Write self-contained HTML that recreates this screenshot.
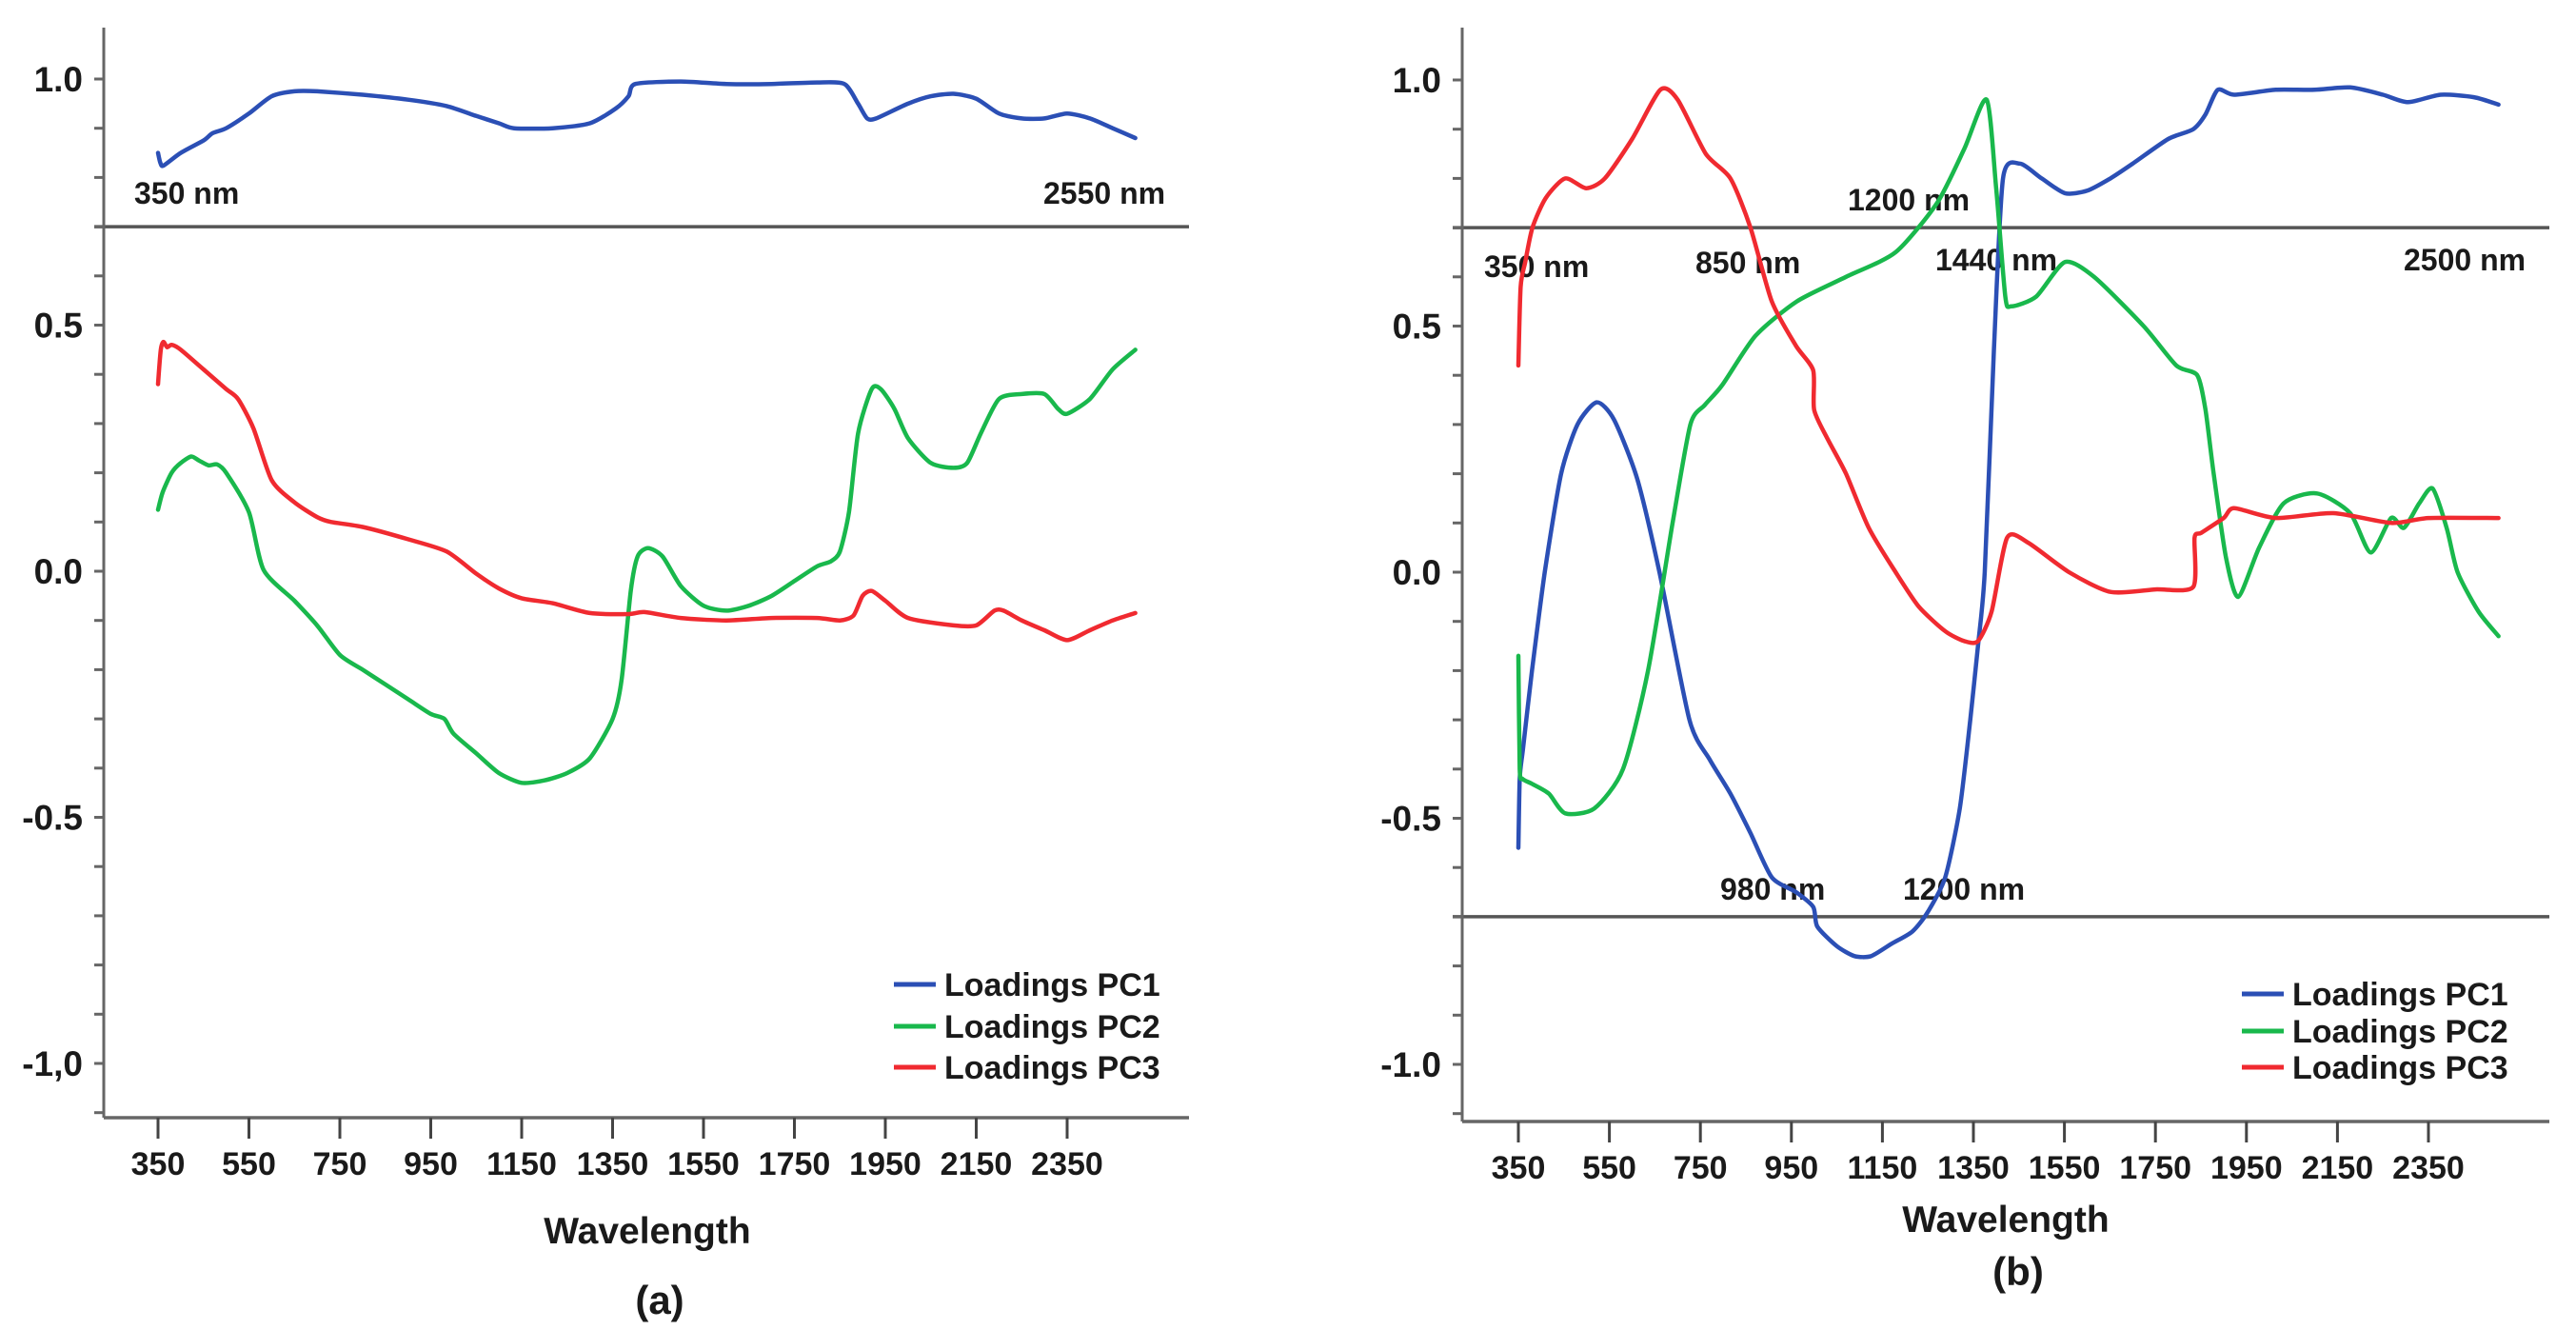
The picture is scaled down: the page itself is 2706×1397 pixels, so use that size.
<!DOCTYPE html>
<html><head><meta charset="utf-8"><style>
html,body{margin:0;padding:0;background:#fff;}
svg{display:block;}
text{font-family:"Liberation Sans",Arial,sans-serif;font-weight:bold;fill:#1a1a1a;}
</style></head>
<body>
<svg id="fig" width="2706" height="1397" viewBox="0 0 2706 1397" xmlns="http://www.w3.org/2000/svg"></svg>
<script>
// ---- data (wavelength nm, loading value) ----
const xTicks = [350,550,750,950,1150,1350,1550,1750,1950,2150,2350];
const yTicksA = [1.0,0.5,0.0,-0.5,-1.0];
const yTickLabelsA = ["1.0","0.5","0.0","-0.5","-1,0"];
const yTickLabelsB = ["1.0","0.5","0.0","-0.5","-1.0"];
const legendLabels = ["Loadings PC1","Loadings PC2","Loadings PC3"];

const aPC1nm = [350,355,362,400,450,470,500,550,600,650,700,800,900,985,1050,1100,1133,1218,1300,1357,1385,1400,1500,1600,1700,1800,1860,1890,1910,1930,2000,2050,2100,2150,2200,2250,2300,2350,2400,2450,2500];
const aPC1v  = [0.85,0.83,0.824,0.85,0.875,0.89,0.90,0.93,0.965,0.975,0.975,0.968,0.958,0.945,0.925,0.91,0.90,0.90,0.91,0.94,0.965,0.99,0.995,0.99,0.99,0.993,0.99,0.95,0.92,0.92,0.95,0.965,0.97,0.96,0.93,0.92,0.92,0.93,0.92,0.90,0.88];
const aPC2nm = [350,360,380,400,423,440,461,480,500,550,582,650,700,750,800,850,900,950,980,1000,1050,1100,1150,1200,1250,1300,1350,1370,1390,1405,1428,1460,1500,1550,1600,1650,1700,1750,1800,1830,1850,1870,1890,1920,1940,1970,2000,2050,2100,2130,2160,2200,2250,2300,2330,2350,2400,2450,2500];
const aPC2v  = [0.125,0.16,0.20,0.22,0.233,0.225,0.215,0.217,0.20,0.12,0.003,-0.06,-0.11,-0.17,-0.20,-0.23,-0.26,-0.29,-0.30,-0.33,-0.37,-0.41,-0.43,-0.425,-0.41,-0.38,-0.30,-0.22,-0.04,0.03,0.047,0.03,-0.03,-0.07,-0.08,-0.07,-0.05,-0.02,0.01,0.02,0.04,0.12,0.28,0.37,0.37,0.33,0.27,0.22,0.21,0.22,0.28,0.35,0.36,0.36,0.33,0.32,0.35,0.41,0.45];
const aPC3nm = [350,356,362,370,380,400,450,500,526,560,600,650,700,731,800,900,985,1050,1100,1150,1218,1300,1386,1420,1500,1600,1700,1800,1850,1880,1900,1920,1950,2000,2100,2150,2190,2210,2250,2300,2350,2400,2450,2500];
const aPC3v  = [0.38,0.45,0.466,0.455,0.46,0.45,0.41,0.37,0.35,0.29,0.185,0.14,0.11,0.10,0.09,0.065,0.04,-0.005,-0.035,-0.055,-0.065,-0.085,-0.087,-0.083,-0.095,-0.10,-0.095,-0.095,-0.10,-0.09,-0.05,-0.04,-0.06,-0.095,-0.11,-0.11,-0.08,-0.08,-0.10,-0.12,-0.14,-0.12,-0.10,-0.085];

const bPC1nm = [350,353,360,380,408,444,480,522,560,611,660,726,770,816,860,907,960,998,1007,1050,1089,1125,1170,1216,1250,1288,1320,1343,1360,1375,1395,1415,1452,1500,1551,1600,1651,1700,1778,1833,1860,1887,1923,2014,2100,2178,2250,2305,2377,2450,2504];
const bPC1v  = [-0.56,-0.42,-0.36,-0.20,0.0,0.20,0.30,0.345,0.31,0.19,0.0,-0.30,-0.38,-0.45,-0.53,-0.62,-0.65,-0.68,-0.72,-0.76,-0.78,-0.78,-0.755,-0.73,-0.69,-0.62,-0.48,-0.30,-0.15,0.0,0.45,0.80,0.83,0.80,0.77,0.775,0.80,0.83,0.88,0.90,0.93,0.98,0.97,0.98,0.98,0.985,0.97,0.955,0.97,0.965,0.95];
const bPC2nm = [350,353,359,380,417,453,517,580,635,689,728,760,798,871,962,1070,1179,1270,1330,1379,1400,1420,1433,1488,1551,1615,1724,1796,1842,1860,1878,1905,1932,1978,2032,2105,2178,2223,2268,2296,2330,2359,2390,2414,2460,2504];
const bPC2v  = [-0.17,-0.40,-0.42,-0.43,-0.45,-0.49,-0.48,-0.40,-0.20,0.10,0.30,0.34,0.38,0.48,0.55,0.60,0.65,0.75,0.86,0.96,0.78,0.56,0.54,0.56,0.63,0.60,0.50,0.42,0.40,0.33,0.20,0.03,-0.05,0.05,0.14,0.16,0.12,0.04,0.11,0.09,0.14,0.17,0.09,0.0,-0.08,-0.13];
const bPC3nm = [350,355,365,381,410,453,499,540,600,662,700,762,816,860,907,960,998,1000,1030,1070,1120,1179,1230,1288,1330,1360,1390,1424,1470,1560,1651,1750,1833,1836,1851,1900,1923,2014,2141,2268,2350,2504];
const bPC3v  = [0.42,0.58,0.63,0.70,0.76,0.80,0.78,0.80,0.88,0.98,0.96,0.85,0.80,0.70,0.55,0.46,0.41,0.33,0.27,0.20,0.09,0.0,-0.07,-0.12,-0.14,-0.14,-0.08,0.07,0.06,0.0,-0.04,-0.035,-0.03,0.07,0.08,0.11,0.13,0.11,0.12,0.10,0.11,0.11];

const NS = "http://www.w3.org/2000/svg";
const svg = document.getElementById('fig');
function el(tag, attrs, parent){const e=document.createElementNS(NS,tag);for(const k in attrs)e.setAttribute(k,attrs[k]);(parent||svg).appendChild(e);return e;}

const COLORS = ["#2b4fb5","#19b84c","#f02a30"];

function smoothPath(pts){
  let d="M"+pts[0][0].toFixed(1)+","+pts[0][1].toFixed(1);
  for(let i=0;i<pts.length-1;i++){
    const p0=pts[Math.max(0,i-1)],p1=pts[i],p2=pts[i+1],p3=pts[Math.min(pts.length-1,i+2)];
    const t=0.12;
    const c1=[p1[0]+(p2[0]-p0[0])*t,p1[1]+(p2[1]-p0[1])*t];
    const c2=[p2[0]-(p3[0]-p1[0])*t,p2[1]-(p3[1]-p1[1])*t];
    d+=" C"+c1[0].toFixed(1)+","+c1[1].toFixed(1)+" "+c2[0].toFixed(1)+","+c2[1].toFixed(1)+" "+p2[0].toFixed(1)+","+p2[1].toFixed(1);
  }
  return d;
}

function panel(cfg){
  const g = el('g',{});
  
  
  const X = nm => cfg.x350 + (nm-350)*cfg.pxnm;
  const Y = v => cfg.y0 - v*cfg.pxv;
  cfg.refs.forEach((r,i)=>{
    const l = el('line',{x1:cfg.axisX-10,x2:cfg.xEnd,y1:Y(r),y2:Y(r),stroke:"#555",'stroke-width':3.5},g);
    
    
  });
  const ya = el('line',{x1:cfg.axisX,x2:cfg.axisX,y1:cfg.top,y2:cfg.axisY,stroke:"#666",'stroke-width':3},g);
  
  
  for(let k=-11;k<=10;k++){
    const v=k/10;
    el('line',{x1:cfg.axisX-10,x2:cfg.axisX,y1:Y(v),y2:Y(v),stroke:"#666",'stroke-width':3},g);
  }
  yTicksA.forEach((v,i)=>{
    const t = el('text',{x:cfg.axisX-22,y:Y(v)+13,'text-anchor':'end','font-size':37},g);
    t.textContent = cfg.yLabels[i];
    
    
  });
  const xa = el('line',{x1:cfg.axisX,x2:cfg.xEnd,y1:cfg.axisY,y2:cfg.axisY,stroke:"#666",'stroke-width':3.5},g);
  
  
  xTicks.forEach(nm=>{
    el('line',{x1:X(nm),x2:X(nm),y1:cfg.axisY,y2:cfg.axisY+22,stroke:"#444",'stroke-width':3},g);
    const t = el('text',{x:X(nm),y:cfg.axisY+60,'text-anchor':'middle','font-size':34},g);
    t.textContent = nm;
    
    
  });
  const xt = el('text',{x:cfg.titleX,y:cfg.titleY,'text-anchor':'middle','font-size':39},g);
  xt.textContent = "Wavelength";
  
  
  const pl = el('text',{x:cfg.capX,y:cfg.capY,'text-anchor':'middle','font-size':42},g);
  pl.textContent = cfg.caption;
  
  
  cfg.notes.forEach(n=>{
    const t = el('text',{x:n[1],y:n[2],'font-size':32},g);
    t.textContent = n[0];
    
    
  });
  cfg.series.forEach((s,i)=>{
    const pts = s[0].map((nm,j)=>[X(nm),Y(s[1][j])]);
    const p = el('path',{d:smoothPath(pts),fill:'none',stroke:COLORS[i],'stroke-width':4.5,'stroke-linejoin':'round','stroke-linecap':'round'},g);
    
    
  });
  legendLabels.forEach((lab,i)=>{
    const y = cfg.legY[i];
    const ll = el('line',{x1:cfg.legX,x2:cfg.legX+44,y1:y,y2:y,stroke:COLORS[i],'stroke-width':5},g);
    
    
    const t = el('text',{x:cfg.legX+53,y:y+12,'font-size':34},g);
    t.textContent = lab;
    
    
  });
}

panel({name:'panel-a',x350:166,pxnm:0.4775,y0:600,pxv:517,axisX:109,axisY:1174,top:29,xEnd:1249,
  refs:[0.7],yLabels:yTickLabelsA,titleX:680,titleY:1306,capX:693,capY:1380,caption:"(a)",
  notes:[["350 nm",141,214],["2550 nm",1096,214]],
  series:[[aPC1nm,aPC1v],[aPC2nm,aPC2v],[aPC3nm,aPC3v]],
  legX:939,legY:[1034,1078,1121]});
panel({name:'panel-b',x350:1595,pxnm:0.478,y0:601,pxv:517,axisX:1536,axisY:1178,top:29,xEnd:2678,
  refs:[0.7,-0.7],yLabels:yTickLabelsB,titleX:2107,titleY:1294,capX:2120,capY:1350,caption:"(b)",
  notes:[["1200 nm",1941,221],["350 nm",1559,291],["850 nm",1781,287],["1440 nm",2033,284],["2500 nm",2525,284],["980 nm",1807,945],["1200 nm",1999,945]],
  series:[[bPC1nm,bPC1v],[bPC2nm,bPC2v],[bPC3nm,bPC3v]],
  legX:2355,legY:[1044,1083,1121]});
</script>
</body></html>
